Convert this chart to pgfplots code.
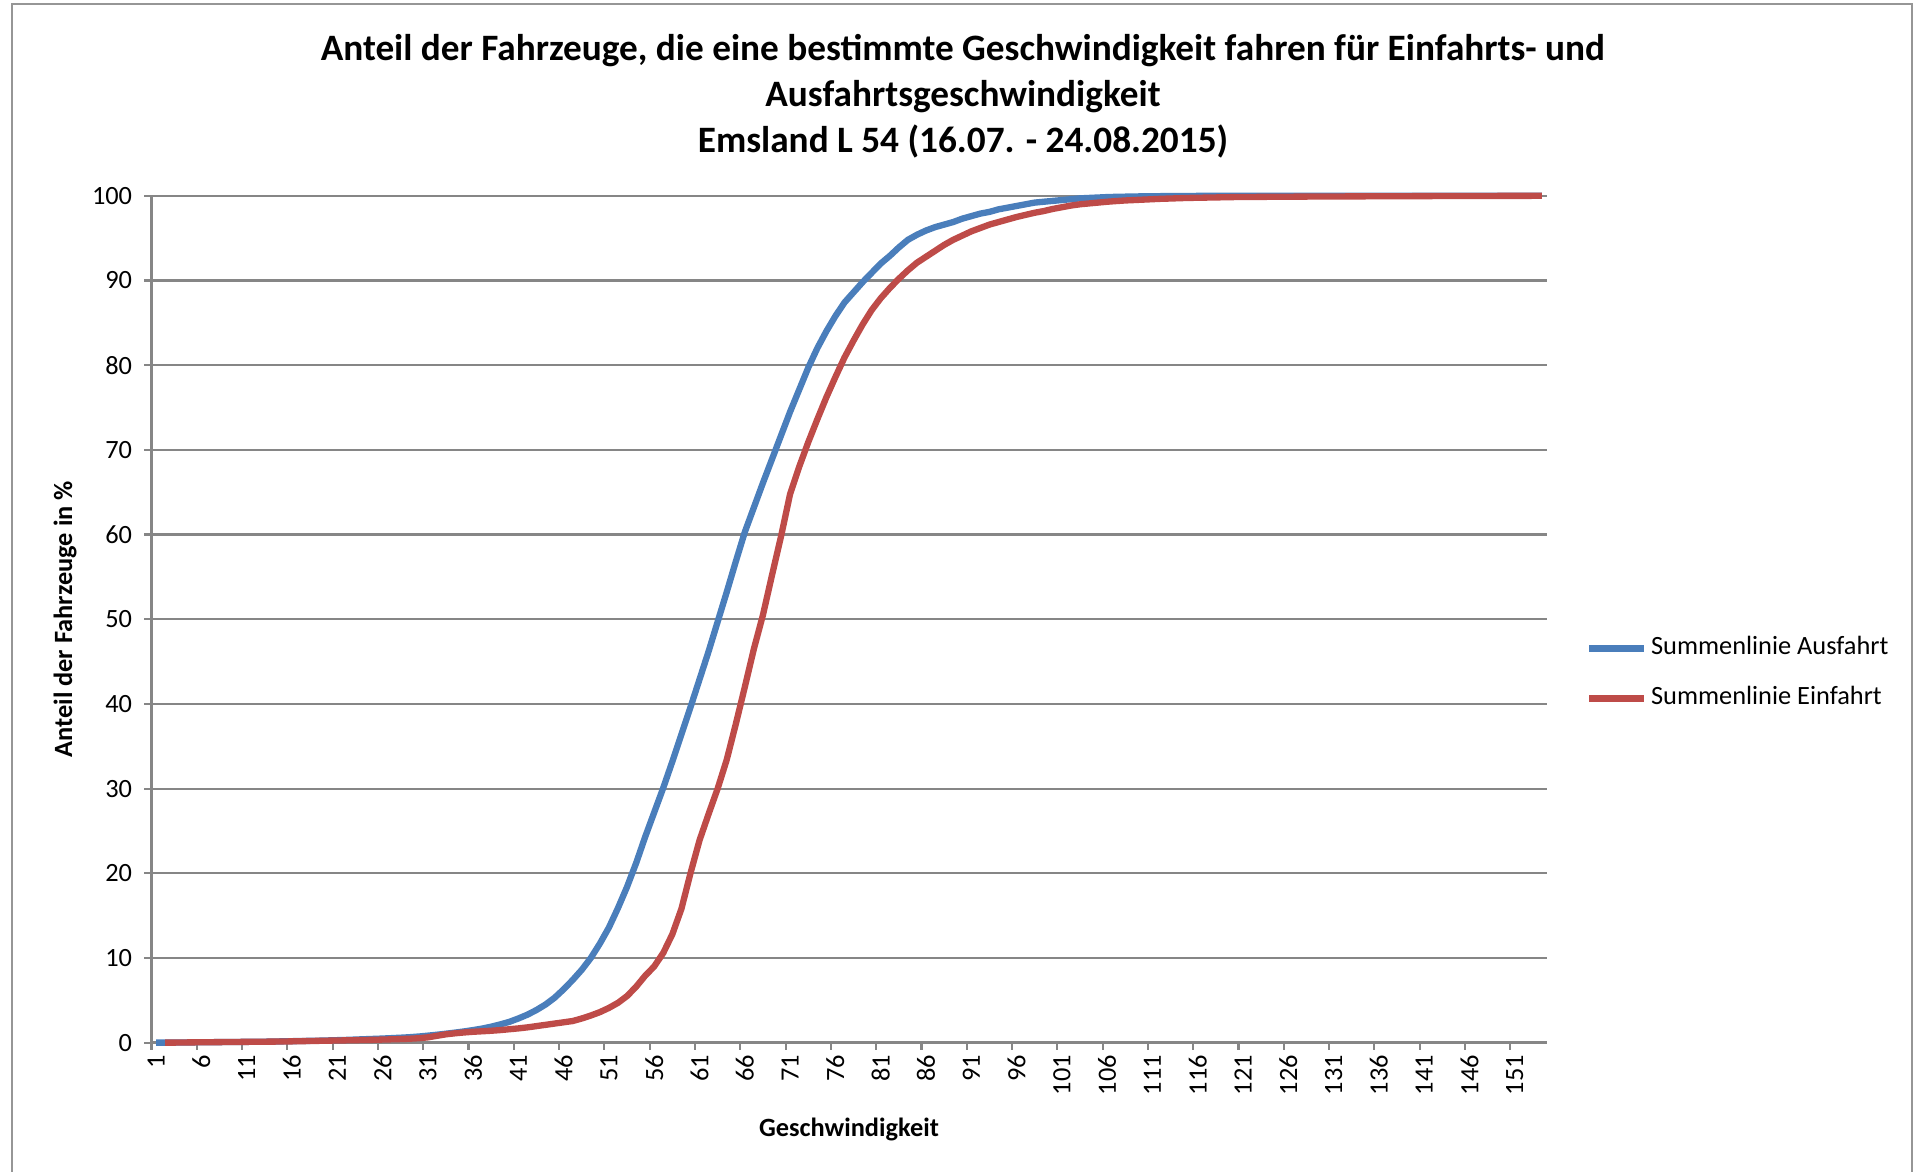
\documentclass[border=0pt]{standalone}
\usepackage{pgfplots}
\pgfplotsset{compat=1.18}
\usepackage{pgfplotstable}
\usepackage{fontspec}
\setmainfont{Carlito}
\definecolor{xlblue}{RGB}{74,126,187}
\definecolor{xlred}{RGB}{190,75,72}
\definecolor{xlgray}{RGB}{134,134,134}
\definecolor{framegray}{RGB}{150,150,150}

\pgfplotstableread{
x y
1 0
2 0
3 0
4 0.02
5 0.03
6 0.04
7 0.05
8 0.06
9 0.07
10 0.08
11 0.09
12 0.1
13 0.11
14 0.13
15 0.15
16 0.17
17 0.19
18 0.21
19 0.23
20 0.26
21 0.29
22 0.32
23 0.36
24 0.4
25 0.44
26 0.48
27 0.53
28 0.58
29 0.64
30 0.72
31 0.82
32 0.93
33 1.05
34 1.18
35 1.32
36 1.48
37 1.66
38 1.88
39 2.15
40 2.45
41 2.85
42 3.3
43 3.85
44 4.5
45 5.3
46 6.3
47 7.4
48 8.6
49 10.0
50 11.7
51 13.6
52 15.9
53 18.4
54 21.2
55 24.3
56 27.2
57 30.1
58 33.2
59 36.4
60 39.6
61 42.9
62 46.2
63 49.7
64 53.2
65 56.8
66 60.3
67 63.2
68 66.1
69 68.9
70 71.7
71 74.5
72 77.1
73 79.7
74 82.0
75 84.0
76 85.8
77 87.4
78 88.6
79 89.8
80 90.9
81 92.0
82 92.9
83 93.9
84 94.8
85 95.4
86 95.9
87 96.3
88 96.6
89 96.9
90 97.3
91 97.6
92 97.9
93 98.1
94 98.4
95 98.6
96 98.8
97 99.0
98 99.2
99 99.3
100 99.4
101 99.5
102 99.6
103 99.7
104 99.75
105 99.8
106 99.85
107 99.88
108 99.9
109 99.92
110 99.94
111 99.95
112 99.96
113 99.97
114 99.98
115 99.98
116 99.99
120 99.99
125 100
130 100
135 100
140 100
145 100
150 100
154 100
}\ausfahrt

\pgfplotstableread{
x y
2 0
3 0
4 0.02
5 0.03
6 0.04
7 0.05
8 0.06
9 0.07
10 0.08
11 0.09
12 0.1
13 0.11
14 0.12
15 0.13
16 0.15
17 0.17
18 0.19
19 0.21
20 0.23
21 0.25
22 0.27
23 0.29
24 0.31
25 0.33
26 0.36
27 0.39
28 0.42
29 0.46
30 0.52
31 0.62
32 0.8
33 0.98
34 1.1
35 1.2
36 1.28
37 1.34
38 1.4
39 1.48
40 1.58
41 1.68
42 1.8
43 1.95
44 2.1
45 2.25
46 2.4
47 2.55
48 2.85
49 3.2
50 3.6
51 4.1
52 4.7
53 5.5
54 6.6
55 7.9
56 9.0
57 10.6
58 12.8
59 15.8
60 20.0
61 23.9
62 27.0
63 30.0
64 33.4
65 37.6
66 42.0
67 46.5
68 50.5
69 55.2
70 59.8
71 64.8
72 68.0
73 70.9
74 73.6
75 76.2
76 78.6
77 80.9
78 82.9
79 84.8
80 86.5
81 87.9
82 89.1
83 90.2
84 91.2
85 92.1
86 92.8
87 93.5
88 94.2
89 94.8
90 95.3
91 95.8
92 96.2
93 96.6
94 96.9
95 97.2
96 97.5
97 97.75
98 98.0
99 98.2
100 98.45
101 98.65
102 98.85
103 99.0
104 99.1
105 99.2
106 99.3
107 99.38
108 99.45
109 99.5
110 99.55
111 99.6
112 99.65
113 99.68
114 99.72
115 99.75
116 99.77
117 99.79
118 99.81
119 99.83
120 99.85
125 99.89
130 99.92
135 99.94
140 99.96
145 99.98
150 99.99
154 100
}\einfahrt

\begin{document}
\begin{tikzpicture}[x=1cm,y=1cm]
\useasboundingbox (0,0) rectangle (19.13,-11.71);
\draw[framegray, line width=0.6pt] (0.12,-12) -- (0.12,-0.04) -- (19.12,-0.04) -- (19.12,-12);
\node[font=\fontsize{10.6}{13.1}\selectfont\bfseries, align=center] at (9.63,-0.96)
  {Anteil der Fahrzeuge, die eine bestimmte Geschwindigkeit fahren für Einfahrts- und\\Ausfahrtsgeschwindigkeit\\Emsland L 54 (16.07. - 24.08.2015)};
\begin{axis}[
  at={(1.515cm,-10.426cm)}, anchor=south west,
  scale only axis, width=13.95cm, height=8.468cm,
  xmin=0.5, xmax=154.5, ymin=0, ymax=100,
  clip=false,
  axis lines=left,
  axis line style={-, xlgray, line width=0.75pt},
  ytick={0,10,...,100},
  ymajorgrids,
  grid style={xlgray, line width=0.6pt},
  tick align=outside,
  major tick length=0.07cm,
  tick style={xlgray, line width=0.6pt},
  xtick={0.5,5.5,...,150.5},
  xticklabels={},
  extra x ticks={1,6,...,151},
  extra x tick style={major tick length=0pt, xticklabel style={rotate=90, anchor=east}},
  /pgf/number format/assume math mode=true,
  ticklabel style={font=\fontsize{7.5}{9}\selectfont, text=black},
  xlabel={Geschwindigkeit},
  ylabel={Anteil der Fahrzeuge in \%},
  label style={font=\fontsize{7.5}{9}\selectfont\bfseries},
  xlabel style={at={(0.5,-0.102)}, anchor=center},
  ylabel style={at={(-0.062,0.5)}, anchor=center},
  legend style={at={(1.028,0.436)}, anchor=west, draw=none, fill=none,
    font=\fontsize{7.5}{9}\selectfont, row sep=0.195cm, inner sep=0pt,
    nodes={inner sep=1pt}},
  legend cell align=left,
  legend image code/.code={\draw[#1, line width=1.8pt] (0cm,0cm) -- (0.55cm,0cm);},
]
\addplot[xlblue, line width=1.8pt, line join=round] table {\ausfahrt};
\addlegendentry{Summenlinie Ausfahrt}
\addplot[xlred, line width=1.8pt, line join=round] table {\einfahrt};
\addlegendentry{Summenlinie Einfahrt}
\end{axis}
\end{tikzpicture}
\end{document}
